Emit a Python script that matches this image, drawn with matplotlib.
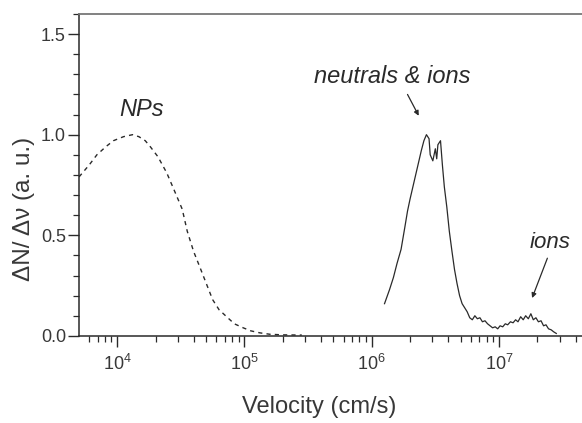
import matplotlib
matplotlib.use('Agg')
import matplotlib.pyplot as plt
from matplotlib.ticker import MultipleLocator, LogLocator, NullFormatter

plt.rcParams['font.family'] = ['Liberation Sans', 'DejaVu Sans']
plt.rcParams['mathtext.fontset'] = 'custom'
plt.rcParams['mathtext.rm'] = 'Liberation Sans'
plt.rcParams['mathtext.it'] = 'Liberation Sans:italic'

# --- DATA ---
# nanoparticles, dashed curve
np_velocity = [5.01e3, 6.03e3, 6.92e3, 8.13e3, 9.33e3, 1.12e4, 1.32e4, 1.48e4,
               1.66e4, 1.82e4, 2.09e4, 2.45e4, 2.82e4, 3.24e4, 3.55e4, 3.98e4,
               4.47e4, 5.01e4, 5.62e4, 6.31e4, 7.24e4, 8.32e4, 9.77e4, 1.12e5,
               1.32e5, 1.58e5, 2.0e5, 2.82e5]
np_signal = [0.79, 0.85, 0.90, 0.94, 0.97, 0.99, 1.00, 0.99,
             0.97, 0.94, 0.89, 0.81, 0.72, 0.63, 0.52, 0.42,
             0.34, 0.26, 0.18, 0.13, 0.095, 0.06, 0.04, 0.025,
             0.015, 0.008, 0.005, 0.004]

# neutrals & ions, solid curve
ion_velocity = [1.26e6, 1.38e6, 1.48e6, 1.58e6, 1.70e6, 1.82e6, 1.91e6, 2.00e6,
                2.14e6, 2.29e6, 2.45e6, 2.57e6, 2.69e6, 2.82e6, 2.88e6, 3.02e6,
                3.16e6, 3.24e6, 3.31e6, 3.47e6, 3.59e6, 3.72e6, 3.89e6, 4.07e6,
                4.27e6, 4.47e6, 4.68e6, 4.90e6, 5.13e6, 5.37e6, 5.62e6, 5.89e6,
                6.17e6, 6.46e6, 6.76e6, 7.08e6, 7.41e6, 7.76e6, 8.13e6, 8.51e6,
                8.91e6, 9.33e6, 9.77e6, 1.02e7, 1.07e7, 1.12e7, 1.17e7, 1.23e7,
                1.29e7, 1.35e7, 1.41e7, 1.48e7, 1.55e7, 1.62e7, 1.70e7, 1.78e7,
                1.86e7, 1.95e7, 2.04e7, 2.14e7, 2.24e7, 2.34e7, 2.45e7, 2.57e7,
                2.69e7, 2.82e7]
ion_signal = [0.16, 0.23, 0.29, 0.36, 0.43, 0.54, 0.62, 0.68,
              0.76, 0.84, 0.92, 0.97, 1.00, 0.98, 0.90, 0.87,
              0.93, 0.88, 0.95, 0.97, 0.85, 0.74, 0.64, 0.52,
              0.42, 0.33, 0.26, 0.20, 0.16, 0.14, 0.12, 0.09,
              0.08, 0.10, 0.085, 0.09, 0.07, 0.075, 0.06, 0.05,
              0.04, 0.045, 0.035, 0.05, 0.045, 0.06, 0.055, 0.07,
              0.065, 0.08, 0.07, 0.095, 0.08, 0.10, 0.085, 0.11,
              0.08, 0.09, 0.07, 0.075, 0.05, 0.055, 0.035, 0.03,
              0.02, 0.012]

INK = '#2a2a2a'
TXT = '#383838'

fig = plt.figure(figsize=(5.82, 4.23), dpi=100)
ax = fig.add_axes([0.136, 0.206, 0.864, 0.761])

ax.plot(np_velocity, np_signal, color=INK, lw=1.0, linestyle=(0, (3, 3)))
ax.plot(ion_velocity, ion_signal, color=INK, lw=0.9)

ax.set_xscale('log')
ax.set_xlim(5.02e3, 4.49e7)
ax.set_ylim(0, 1.6)

ax.yaxis.set_major_locator(MultipleLocator(0.5))
ax.yaxis.set_minor_locator(MultipleLocator(0.1))
ax.yaxis.set_major_formatter(plt.FuncFormatter(lambda v, p: f'{v:.1f}'))
ax.xaxis.set_major_locator(LogLocator(base=10))
ax.xaxis.set_minor_locator(LogLocator(base=10, subs=range(2, 10)))
ax.xaxis.set_minor_formatter(NullFormatter())

ax.tick_params(which='major', direction='out', length=8, width=1.0, color=INK,
               labelsize=13, labelcolor=TXT)
ax.tick_params(axis='y', which='major', pad=1.5)
ax.tick_params(axis='x', which='major', pad=5)
ax.tick_params(which='minor', direction='out', length=4, width=0.9, color=INK)

for side in ['left', 'bottom']:
    ax.spines[side].set_color(INK)
    ax.spines[side].set_linewidth(1.1)
ax.spines['top'].set_color('#777777')
ax.spines['top'].set_linewidth(1.3)
ax.spines['right'].set_visible(False)

ax.set_xlabel('Velocity (cm/s)', fontsize=17, color=TXT)
ax.set_ylabel('\u0394N/ \u0394\u03bd (a. u.)', fontsize=17.5, color=TXT)
ax.xaxis.set_label_coords(0.477, -0.186)
ax.yaxis.set_label_coords(-0.087, 0.394)

ax.text(1.55e4, 1.124, 'NPs', fontsize=17, style='italic', color=INK,
        ha='center', va='center')
ax.text(1.46e6, 1.29, 'neutrals & ions', fontsize=17, style='italic',
        color=INK, ha='center', va='center')
ax.text(2.51e7, 0.465, 'ions', fontsize=16, style='italic', color=INK,
        ha='center', va='center')

arrow = dict(arrowstyle='-|>', color=INK, lw=0.9, mutation_scale=7,
             shrinkA=0, shrinkB=0)
ax.annotate('', xy=(2.34e6, 1.094), xytext=(1.91e6, 1.20), arrowprops=arrow)
ax.annotate('', xy=(1.82e7, 0.188), xytext=(2.4e7, 0.386), arrowprops=arrow)

fig.savefig('out.png', dpi=100)
